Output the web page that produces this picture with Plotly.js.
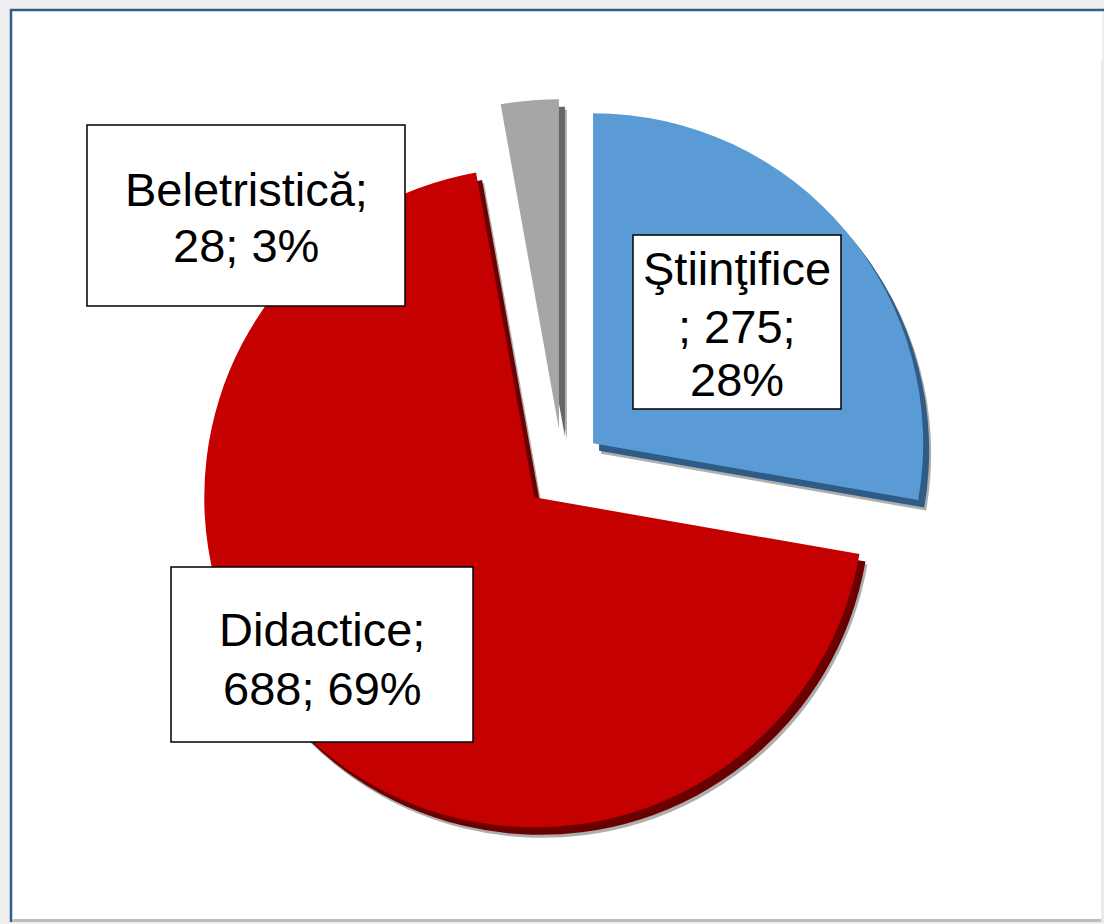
<!DOCTYPE html>
<html><head><meta charset="utf-8">
<script src="https://cdn.plot.ly/plotly-3.0.1.min.js"></script>
<style>html,body{margin:0;padding:0;background:#fff;}#chart{width:1104px;height:924px;}</style>
</head><body><div id="chart"></div>
<script>
// ---- data ----
const categories = ["Ştiinţifice", "Didactice", "Beletristică"];
const values = [275, 688, 28];
const sliceColors = ["#5B9BD5", "#C50000", "#A6A6A6"];
const rimColors = ["#2F5C86", "#6A0000", "#666666"];
const total = values.reduce((a, b) => a + b, 0);
const percents = values.map(v => Math.round(v / total * 100) + "%");
// label lines, wrapped as in the reference
const labelLines = [
  [categories[0], "; " + values[0] + ";", percents[0]],
  [categories[1] + ";", values[1] + "; " + percents[1]],
  [categories[2] + ";", values[2] + "; " + percents[2]]
];

// ---- layout helpers (pixel -> paper) ----
const W = 1104, H = 924;
const px = x => x / W, py = y => 1 - y / H;
const S = 740, PULL = 0.121;
function dom(cx, cy) {
  return { x: [px(cx - S / 2), px(cx + S / 2)], y: [py(cy + S / 2), py(cy - S / 2)] };
}
function pieTrace(colors, cx, cy, opacity) {
  return {
    type: "pie", labels: categories, values: values, sort: false,
    direction: "clockwise", rotation: 0, pull: values.map(() => PULL),
    textinfo: "none", hoverinfo: "label+value+percent", showlegend: false,
    marker: { colors: colors, line: { width: 0 } }, opacity: opacity,
    domain: dom(cx, cy)
  };
}
const traces = [
  pieTrace(["#9a9a9a", "#9a9a9a", "#9a9a9a"], 570.5, 479.5, 0.8),
  pieTrace(rimColors, 568.5, 476.5, 1),
  pieTrace(sliceColors, 562.5, 469, 1)
];

// label boxes [x0, y0, x1, y1] and line centres
const boxes = [[633, 235, 841, 409], [171, 567, 473, 742], [87, 125, 405, 306]];
const lineY = [[268, 326, 380], [629, 688], [190, 246]];

const shapes = [
  { type: "rect", xref: "paper", yref: "paper", x0: px(11), x1: px(1102), y0: py(920), y1: py(10),
    fillcolor: "#ffffff", line: { width: 0 }, layer: "below" },
  { type: "line", xref: "paper", yref: "paper", x0: px(11), x1: px(11), y0: py(922), y1: py(9),
    line: { color: "#2F5F8F", width: 2.5 }, layer: "below" },
  { type: "line", xref: "paper", yref: "paper", x0: px(10), x1: px(1104), y0: py(10), y1: py(10),
    line: { color: "#2F5F8F", width: 2.5 }, layer: "below" },
  { type: "line", xref: "paper", yref: "paper", x0: px(12), x1: px(1104), y0: py(920.5), y1: py(920.5),
    line: { color: "#BDBDBD", width: 3 }, layer: "below" },
  { type: "line", xref: "paper", yref: "paper", x0: px(1102.5), x1: px(1102.5), y0: py(922), y1: py(60),
    line: { color: "#EAEAEA", width: 3 }, layer: "below" }
];
const annotations = [];
boxes.forEach((b, i) => {
  shapes.push({ type: "rect", xref: "paper", yref: "paper", x0: px(b[0]), x1: px(b[2]), y0: py(b[3]), y1: py(b[1]),
    fillcolor: "#ffffff", line: { color: "#000000", width: 1.5 }, layer: "above" });
  labelLines[i].forEach((t, j) => {
    annotations.push({ xref: "paper", yref: "paper", x: px((b[0] + b[2]) / 2), y: py(lineY[i][j]),
      xanchor: "center", yanchor: "middle", text: t, showarrow: false,
      font: { family: "Liberation Sans, Arial, sans-serif", size: 47, color: "#000000" } });
  });
});

const layout = {
  width: W, height: H, margin: { l: 0, r: 0, t: 0, b: 0 },
  paper_bgcolor: "#EFEFEF", showlegend: false,
  shapes: shapes, annotations: annotations
};
Plotly.newPlot("chart", traces, layout, { displayModeBar: false, staticPlot: true });
</script></body></html>
